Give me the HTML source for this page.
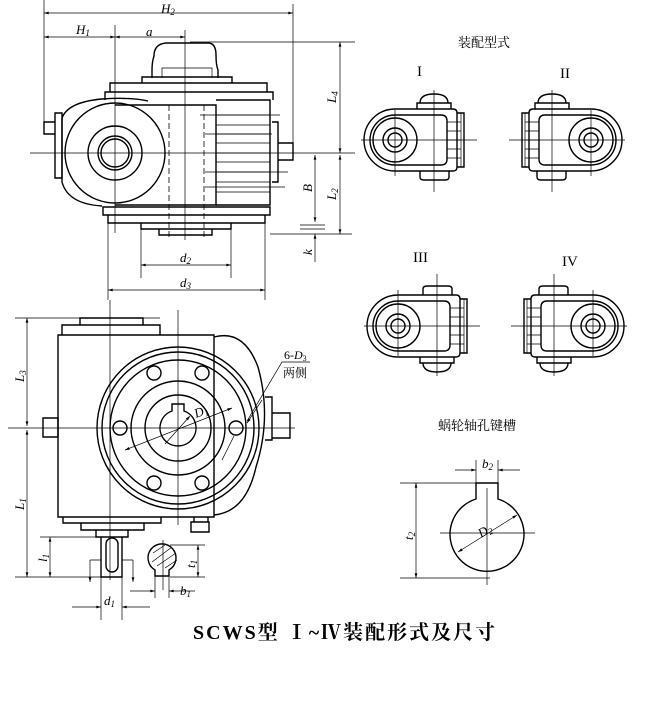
<!DOCTYPE html>
<html><head><meta charset="utf-8"><style>
html,body{margin:0;padding:0;background:#fff;width:650px;height:701px;overflow:hidden}
svg{display:block}
.t{fill:none;stroke:#000;stroke-width:1.4}
.n{fill:none;stroke:#000;stroke-width:0.7}
.c{fill:none;stroke:#000;stroke-width:0.7;stroke-dasharray:14 3 2 3}
.d{fill:none;stroke:#000;stroke-width:0.8;stroke-dasharray:6 3}
text{font-family:"Liberation Serif","Noto Serif CJK SC",serif;fill:#000}
.i{font-style:italic;font-size:13px}
</style></head><body>
<svg width="650" height="701" viewBox="0 0 650 701" xmlns="http://www.w3.org/2000/svg">
<defs>
<marker id="a" viewBox="0 0 10 6" refX="10" refY="3" markerWidth="8" markerHeight="4" orient="auto-start-reverse"><path d="M0,0 L10,3 L0,6 Z" fill="#000"/></marker>
<g id="asm">
<path class="t" d="M0,-31 H58 q4,0 4,4 V27 q0,4 -4,4 H0 A31,31 0 0,1 0,-31 Z"/>
<path class="t" d="M0,-25 H46 q6,0 6,6 V19 q0,6 -6,6 H0 A25,25 0 0,1 0,-25 Z"/>
<circle class="t" cx="0" cy="0" r="22"/>
<circle class="t" cx="0" cy="0" r="12"/>
<circle class="t" cx="0" cy="0" r="7"/>
<path class="t" d="M22,-31 V-37 H56 V-31"/>
<path class="t" d="M25,-37 q0,-9 14,-9 q14,0 14,9"/>
<path class="t" d="M25,31 V37 q0,3 4,3 H50 q4,0 4,-3 V31"/>
<path class="t" d="M62,-27 H69 V27 H62"/>
<path class="n" d="M52,-18 H66 M52,-9 H66 M52,0 H66 M52,9 H66 M52,18 H66 M66,-27 V27"/>
<path class="n" d="M-34,0 H82 M0,-30 V36 M39,-50 V52"/>
</g>
</defs>

<path class="n" d="M44,0 V128 M293,4 V145"/>
<line class="n" x1="44" y1="13" x2="293" y2="13" marker-start="url(#a)" marker-end="url(#a)"/>
<text class="i" x="161" y="13">H<tspan font-size="9" dy="2">2</tspan></text>
<line class="n" x1="44" y1="37" x2="115" y2="37" marker-start="url(#a)" marker-end="url(#a)"/>
<text class="i" x="76" y="34">H<tspan font-size="9" dy="2">1</tspan></text>
<line class="n" x1="115" y1="37" x2="185" y2="37" marker-start="url(#a)" marker-end="url(#a)"/>
<text class="i" x="146" y="36">a</text>
<path class="n" d="M115,25 V233 M185,30 V240"/>
<path class="t" d="M152,78 V70 q0,-8 2,-14 q0,-12 12,-13 H208 q8,0 8,12 q0,10 2,15 V78"/>
<path class="t" d="M142,83 V77 H232 V83"/>
<path class="n" d="M162,78 V68 H212 V78"/>
<path class="t" d="M110,92 V83 H267 V92"/>
<path class="t" d="M105,100 V92 H273 V100"/>
<path class="t" d="M62,118 q6,-16 40,-19 q28,-2 46,2 M62,118 V182 q6,22 40,24"/>
<path class="t" d="M115,105 H216 V205 H115"/>
<circle class="t" cx="115" cy="153" r="50"/>
<circle class="t" cx="115" cy="153" r="27"/>
<circle class="t" cx="115" cy="153" r="17"/>
<circle class="t" cx="115" cy="153" r="14"/>
<path class="t" d="M55,113 H62 V178 H55 Z M44,122 H55 V134 H44 Z"/>
<path class="t" d="M216,100 H270 V205 H216"/>
<path class="n" d="M216,115 H270 M216,125 H270 M216,134 H270 M216,143 H270 M216,153 H270 M216,162 H270 M216,172 H270 M216,182 H270 M216,192 H270"/>
<path class="n" d="M200,115 H280 M205,134 H272 M205,172 H288 M205,187 H285"/>
<path class="d" d="M204,105 V240 M169,105 V240"/>
<path class="t" d="M272,122 H278 V182 H272 M278,143 H293 V160 H278"/>
<path class="n" d="M30,153 H355"/>
<path class="t" d="M103,207 V215 H270 V207 Z M108,215 V223 H265 V215 M141,223 V229 H231 V223 M159,229 V235 H212 V229"/>
<path class="n" d="M190,42 H355 M300,225 H325 M300,229 H325 M270,234 H352"/>
<line class="n" x1="340" y1="42" x2="340" y2="153" marker-start="url(#a)" marker-end="url(#a)"/>
<text class="i" transform="translate(336,103) rotate(-90)">L<tspan font-size="9" dy="2">4</tspan></text>
<line class="n" x1="340" y1="155" x2="340" y2="234" marker-start="url(#a)" marker-end="url(#a)"/>
<text class="i" transform="translate(336,200) rotate(-90)">L<tspan font-size="9" dy="2">2</tspan></text>
<line class="n" x1="315" y1="155" x2="315" y2="222" marker-start="url(#a)" marker-end="url(#a)"/>
<text class="i" transform="translate(312,192) rotate(-90)">B</text>
<line class="n" x1="315" y1="262" x2="315" y2="234" marker-end="url(#a)"/>
<text class="i" transform="translate(312,255) rotate(-90)">k</text>
<path class="n" d="M141,229 V278 M231,229 V278 M108,223 V300 M265,223 V300"/>
<line class="n" x1="141" y1="265" x2="231" y2="265" marker-start="url(#a)" marker-end="url(#a)"/>
<text class="i" x="180" y="262">d<tspan font-size="9" dy="2">2</tspan></text>
<line class="n" x1="108" y1="290" x2="265" y2="290" marker-start="url(#a)" marker-end="url(#a)"/>
<text class="i" x="180" y="287">d<tspan font-size="9" dy="2">3</tspan></text>

<path class="n" d="M15,318 H160"/>
<line class="n" x1="27" y1="318" x2="27" y2="426" marker-start="url(#a)" marker-end="url(#a)"/>
<text class="i" transform="translate(24,382) rotate(-90)">L<tspan font-size="9" dy="2">3</tspan></text>
<line class="n" x1="27" y1="430" x2="27" y2="577" marker-start="url(#a)" marker-end="url(#a)"/>
<text class="i" transform="translate(24,510) rotate(-90)">L<tspan font-size="9" dy="2">1</tspan></text>
<path class="t" d="M80,325 V318 H143 V325 M62,335 V325 H160 V335"/>
<path class="t" d="M58,335 H214 V517 H58 Z"/>
<path class="t" d="M214,337 q30,-8 44,30 q14,50 -2,100 q-10,45 -42,48"/>
<circle class="t" cx="178" cy="428" r="81"/>
<circle class="t" cx="178" cy="428" r="76"/>
<circle class="t" cx="178" cy="428" r="68"/>
<circle class="t" cx="178" cy="428" r="47"/>
<circle class="t" cx="178" cy="428" r="33"/>
<path class="t" d="M172,411 V404 H184 V411 A18,18 0 1,1 172,411 Z"/>
<g class="t">
<circle cx="120" cy="428" r="7"/><circle cx="236" cy="428" r="7"/>
<circle cx="154" cy="373" r="7"/><circle cx="202" cy="373" r="7"/>
<circle cx="154" cy="483" r="7"/><circle cx="202" cy="483" r="7"/>
</g>
<path class="n" d="M8,428 H295 M178,310 V525 M110,300 V580"/>
<line class="n" x1="125" y1="450" x2="232" y2="408" marker-start="url(#a)" marker-end="url(#a)"/>
<line class="n" x1="165" y1="444" x2="190" y2="416" marker-end="url(#a)"/>
<text class="i" x="196" y="418" transform="rotate(-20 196 418)">D<tspan font-size="9" dy="2">1</tspan></text>
<path class="n" d="M222,460 L234,436 M310,362 H282 L247,421"/>
<line class="n" x1="262" y1="400" x2="247" y2="423" marker-end="url(#a)"/>
<text x="284" y="359" font-size="12">6-<tspan font-style="italic">D</tspan><tspan font-size="8" dy="2">3</tspan></text>
<text x="283" y="377" font-size="12">两侧</text>
<path class="t" d="M265,397 H272 V440 H265 M272,413 H290 V438 H272 M43,418 H58 V437 H43 Z"/>
<path class="t" d="M194,517 V522 H208 V517 M191,522 H209 V532 H191 Z"/>
<path class="t" d="M63,517 V523 H161 V517 M81,523 V530 H144 V523 M96,530 V537 H128 V530 M101,537 V577 H122 V537"/>
<rect class="t" x="106" y="538" width="12" height="34" rx="6"/>
<path class="n" d="M90,560 H101 M122,560 H133"/>
<line class="n" x1="90" y1="560" x2="90" y2="582" marker-end="url(#a)"/>
<line class="n" x1="133" y1="560" x2="133" y2="582" marker-end="url(#a)"/>
<path class="n" d="M40,537 H101 M15,577 H101"/>
<line class="n" x1="50" y1="537" x2="50" y2="577" marker-start="url(#a)" marker-end="url(#a)"/>
<text class="i" transform="translate(47,562) rotate(-90)">l<tspan font-size="9" dy="2">1</tspan></text>
<path class="n" d="M101,577 V620 M122,577 V620"/>
<line class="n" x1="72" y1="607" x2="101" y2="607" marker-end="url(#a)"/>
<line class="n" x1="150" y1="607" x2="122" y2="607" marker-end="url(#a)"/>
<text class="i" x="104" y="605">d<tspan font-size="9" dy="2">1</tspan></text>
<path class="t" d="M155,570 A14,14 0 1,1 169,570 V576 H155 Z"/>
<path class="n" d="M153,553 L165,545 M152,562 L172,547 M157,566 L176,553 M165,568 L177,560"/>
<path class="n" d="M163,540 V590 M155,576 V598 M169,576 V598 M170,545 H205 M170,577 H205"/>
<line class="n" x1="198" y1="545" x2="198" y2="577" marker-start="url(#a)" marker-end="url(#a)"/>
<text class="i" transform="translate(195,568) rotate(-90)">t<tspan font-size="9" dy="2">1</tspan></text>
<line class="n" x1="130" y1="591" x2="155" y2="591" marker-end="url(#a)"/>
<line class="n" x1="195" y1="591" x2="169" y2="591" marker-end="url(#a)"/>
<text class="i" x="180" y="595">b<tspan font-size="9" dy="2">1</tspan></text>

<text x="458" y="47" font-size="13">装配型式</text>
<text x="417" y="76" font-size="15">I</text>
<text x="560" y="78" font-size="15">II</text>
<text x="413" y="262" font-size="15">III</text>
<text x="562" y="266" font-size="15">IV</text>
<use href="#asm" transform="translate(395,140)"/>
<use href="#asm" transform="translate(591,140) scale(-1,1)"/>
<use href="#asm" transform="translate(398,326) scale(1,-1)"/>
<use href="#asm" transform="translate(593,326) scale(-1,-1)"/>

<text x="438" y="430" font-size="13">蜗轮轴孔键槽</text>
<path class="t" d="M476,483 H498 V499 A37,37 0 1,1 476,499 Z"/>
<path class="n" d="M476,483 V460 M498,483 V460 M487,488 V585 M440,533 H535 M400,483 H476 M400,578 H490"/>
<line class="n" x1="455" y1="470" x2="476" y2="470" marker-end="url(#a)"/>
<line class="n" x1="520" y1="470" x2="498" y2="470" marker-end="url(#a)"/>
<text class="i" x="482" y="468">b<tspan font-size="9" dy="2">2</tspan></text>
<line class="n" x1="416" y1="483" x2="416" y2="578" marker-start="url(#a)" marker-end="url(#a)"/>
<text class="i" transform="translate(413,540) rotate(-90)">t<tspan font-size="9" dy="2">2</tspan></text>
<line class="n" x1="458" y1="552" x2="517" y2="515" marker-start="url(#a)" marker-end="url(#a)"/>
<text class="i" x="481" y="538" transform="rotate(-30 481 538)">D<tspan font-size="9" dy="2">2</tspan></text>

<text x="193" y="639" font-size="20" font-weight="bold" letter-spacing="2">SCWS型 Ⅰ~Ⅳ装配形式及尺寸</text>
</svg>
</body></html>
